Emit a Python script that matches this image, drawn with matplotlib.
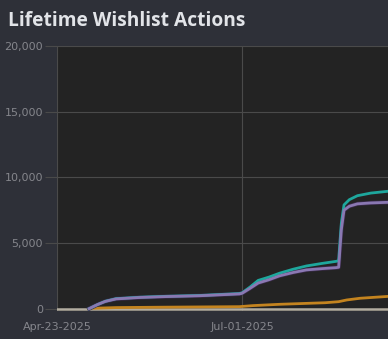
import matplotlib
matplotlib.use('Agg')
import matplotlib.pyplot as plt
import matplotlib.dates as mdates
import matplotlib.ticker as mticker
import numpy as np
import pandas as pd

# data
adds_dates = ['2025-05-05', '2025-05-08', '2025-05-11', '2025-05-15', '2025-05-24', '2025-06-03',
              '2025-06-15', '2025-06-30', '2025-07-01', '2025-07-04', '2025-07-07', '2025-07-11',
              '2025-07-15', '2025-07-20', '2025-07-25', '2025-07-31', '2025-08-05', '2025-08-06',
              '2025-08-07', '2025-08-08', '2025-08-10', '2025-08-13', '2025-08-18', '2025-08-25']
adds = [0, 300, 560, 760, 870, 940, 1000, 1150, 1200, 1650, 2150, 2400, 2700, 3000, 3250, 3450,
        3600, 3650, 6500, 7900, 8300, 8600, 8800, 8950]
net = [0, 300, 550, 740, 850, 920, 980, 1120, 1170, 1550, 1950, 2200, 2500, 2750, 2950, 3050,
       3120, 3150, 6000, 7500, 7800, 7980, 8050, 8100]

del_dates = ['2025-05-05', '2025-05-15', '2025-06-01', '2025-06-30', '2025-07-05', '2025-07-15',
             '2025-08-01', '2025-08-06', '2025-08-09', '2025-08-14', '2025-08-25']
deletes = [20, 80, 110, 150, 230, 330, 450, 530, 660, 790, 940]

zero_dates = ['2025-04-23', '2025-08-25']
gifts = [0, 0]

y_ticks = [0, 5000, 10000, 15000, 20000]
x_ticks = ['2025-04-23', '2025-07-01']

bg = '#2e3038'
plot_bg = '#232323'
grid_c = '#4a4a4a'
txt_c = '#85868c'

fig = plt.figure(figsize=(3.88, 3.39), dpi=100, facecolor=bg)
ax = fig.add_axes([57/388, 1-311/339, 1-57/388, (311-46)/339])
ax.set_facecolor(plot_bg)

ad = pd.to_datetime(adds_dates)
dd = pd.to_datetime(del_dates)
zd = pd.to_datetime(zero_dates)

ax.plot(zd, gifts, color='#b3ada0', lw=1.8, zorder=3)
ax.plot(dd, deletes, color='#c4841f', lw=2, zorder=4)
ax.plot(ad, net, color='#3a2a4a', lw=3, zorder=5)
ax.plot(ad, net, color='#8a78b2', lw=2, zorder=6)
ax.plot(ad, adds, color='#1ea79d', lw=2, zorder=5)

ax.set_ylim(-180, 20000)
ax.set_xlim(pd.Timestamp('2025-04-23'), pd.Timestamp('2025-04-23') + pd.Timedelta(days=123.4))
ax.set_yticks(y_ticks)
ax.yaxis.set_major_formatter(mticker.FuncFormatter(lambda v, p: f'{int(v):,}'))
ax.set_xticks(pd.to_datetime(x_ticks))
ax.xaxis.set_major_formatter(mdates.DateFormatter('%b-%d-%Y'))
ax.grid(True, color=grid_c, lw=0.8)
ax.set_axisbelow(True)
ax.tick_params(axis='y', colors=grid_c, labelcolor=txt_c, labelsize=8, length=9, width=0.8, pad=1)
ax.tick_params(axis='x', colors=grid_c, labelcolor=txt_c, labelsize=8, length=0, pad=8)
for s in ax.spines.values():
    s.set_visible(False)

fig.text(8/388, 1-21/339, 'Lifetime Wishlist Actions', color='#e2e4e8', fontsize=13.8,
         fontweight='bold', family='Open Sans', va='center', ha='left')

fig.savefig('out.png', dpi=100, facecolor=bg)
